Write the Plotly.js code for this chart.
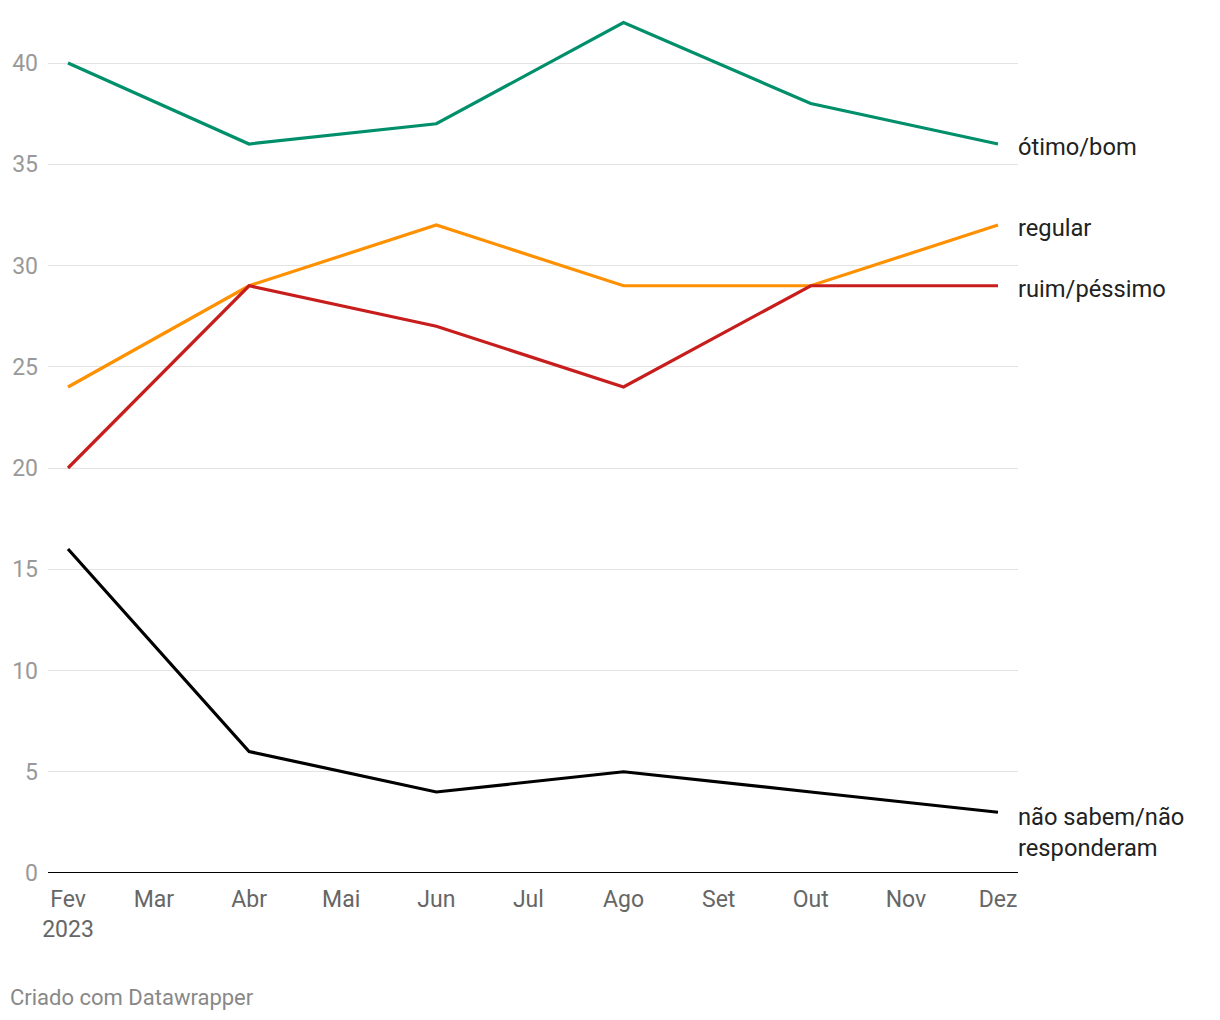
<!DOCTYPE html>
<html><head><meta charset="utf-8">
<script src="https://cdn.plot.ly/plotly-3.0.1.min.js"></script>
<style>html,body{margin:0;padding:0;background:#fff;}#chart{width:1220px;height:1020px;}</style>
</head><body><div id="chart"></div>
<script>
const dates = ["2023-02-01","2023-04-01","2023-06-01","2023-08-01","2023-10-01","2023-12-01"];
const otimoBom = [40,36,37,42,38,36];
const regular = [24,29,32,29,29,32];
const ruimPessimo = [20,29,27,24,29,29];
const naoSabem = [16,6,4,5,4,3];
const seriesNames = ["ótimo/bom","regular","ruim/péssimo","não sabem/não<br>responderam"];
const seriesColors = ["#008f6b","#ff9000","#c71e1d","#000000"];
const seriesValues = [otimoBom, regular, ruimPessimo, naoSabem];
const tickDates = ["2023-02-01","2023-03-01","2023-04-01","2023-05-01","2023-06-01","2023-07-01","2023-08-01","2023-09-01","2023-10-01","2023-11-01","2023-12-01"];
const tickLabels = ["Fev<br>2023","Mar","Abr","Mai","Jun","Jul","Ago","Set","Out","Nov","Dez"];
const yTicks = [0,5,10,15,20,25,30,35,40];

const traces = seriesValues.map((v,i)=>({
  x: dates, y: v, type:"scatter", mode:"lines",
  line:{color:seriesColors[i], width:3.2}, hoverinfo:"skip", showlegend:false
}));

const annotations = seriesValues.map((v,i)=>({
  x: dates[dates.length-1], y: v[v.length-1], xref:"x", yref:"y",
  text: seriesNames[i], showarrow:false, xanchor:"left",
  yanchor: "middle",
  xshift: 18, yshift: i===3 ? -20 : -3,
  align:"left",
  font:{family:"Roboto", size:23.7, color:"#222222"}
}));
annotations.push({
  xref:"paper", yref:"paper", x:-40/970, y:-(997-873)/863,
  text:"Criado com Datawrapper", showarrow:false, xanchor:"left", yanchor:"middle",
  font:{family:"Roboto", size:22, color:"#888888"}
});

const layout = {
  width:1220, height:1020,
  margin:{l:48, r:202, t:10, b:147},
  paper_bgcolor:"#fff", plot_bgcolor:"#fff",
  font:{family:"Roboto", size:23},
  xaxis:{
    type:"date",
    range:["2023-01-25 11:36","2023-12-07 12:24"],
    tickvals: tickDates, ticktext: tickLabels, tickmode:"array",
    showgrid:false, zeroline:false, showline:false, ticks:"",
    tickfont:{family:"Roboto", size:23, color:"#666666"},
    ticklabelstandoff: 10
  },
  yaxis:{
    range:[0, 863/20.25],
    tickvals:yTicks, tickmode:"array",
    showgrid:true, gridcolor:"#e3e3e3", gridwidth:1,
    zeroline:false, showline:false, ticks:"",
    tickfont:{family:"Roboto", size:23, color:"#999999"},
    ticklabelstandoff: 9
  },
  shapes:[{type:"line", xref:"paper", yref:"y", x0:0, x1:1, y0:0, y1:0, line:{color:"#000", width:2}, layer:"above"}],
  annotations: annotations
};
Plotly.newPlot("chart", traces, layout, {displayModeBar:false, staticPlot:true});
</script></body></html>
